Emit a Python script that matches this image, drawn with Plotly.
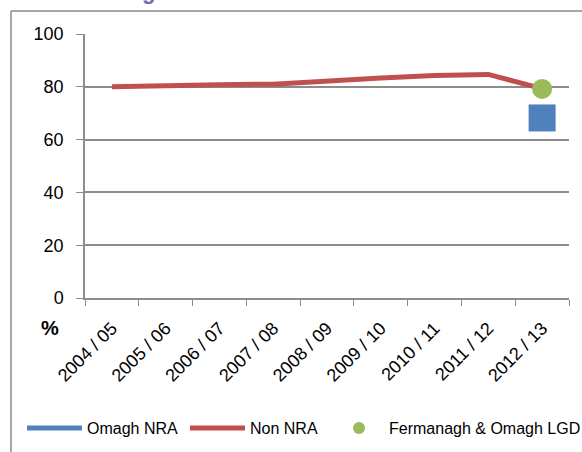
import plotly.graph_objects as go

years = ['2004 / 05', '2005 / 06', '2006 / 07', '2007 / 08', '2008 / 09',
         '2009 / 10', '2010 / 11', '2011 / 12', '2012 / 13']
non_nra = [80.0, 80.6, 80.8, 81.0, 82.3, 83.3, 84.3, 84.7, 79.3]
omagh_nra_years = ['2012 / 13']
omagh_nra = [68.2]
lgd_years = ['2012 / 13']
lgd = [79.2]
y_ticks = [0, 20, 40, 60, 80, 100]

W, H = 582, 452
L, R, T, B = 85, 13, 34, 154
pw, ph = W - L - R, H - T - B

def px_x(x):
    return (x - L) / pw

def px_y(y):
    return (H - B - y) / ph

blue = '#4F81BD'
red = '#C0504D'
green = '#9BBB59'
grid = '#8C8C8C'

fig = go.Figure()

# Omagh NRA: only one year, drawn as a square marker
fig.add_trace(go.Scatter(
    x=omagh_nra_years, y=omagh_nra, mode='markers', showlegend=False,
    marker=dict(symbol='square', size=27, color=blue),
))
fig.add_trace(go.Scatter(
    x=[None], y=[None], mode='lines', name='Omagh NRA', legend='legend',
    line=dict(color=blue, width=5),
))
fig.add_trace(go.Scatter(
    x=years, y=non_nra, mode='lines', name='Non NRA', legend='legend2',
    line=dict(color=red, width=5),
))
fig.add_trace(go.Scatter(
    x=lgd_years, y=lgd, mode='markers', name='Fermanagh & Omagh LGD', legend='legend3',
    marker=dict(symbol='circle', size=20, color=green),
))

def legend_at(x_px, itemwidth=30):
    return dict(
        x=px_x(x_px), y=px_y(428), xanchor='left', yanchor='middle',
        font=dict(size=16), bgcolor='rgba(0,0,0,0)', itemsizing='constant',
        borderwidth=0, tracegroupgap=0, itemwidth=itemwidth,
    )

fig.update_layout(
    width=W, height=H,
    margin=dict(l=L, r=R, t=T, b=B, pad=0, autoexpand=False),
    paper_bgcolor='white', plot_bgcolor='white',
    font=dict(family='Liberation Sans, Arial, sans-serif', size=18, color='black'),
    legend=legend_at(22, 55),
    legend2=legend_at(185, 55),
    legend3=legend_at(329, 50),
    xaxis=dict(
        type='category', categoryorder='array', categoryarray=years,
        range=[-0.5, len(years) - 0.5], automargin=False,
        showline=True, linecolor=grid, linewidth=1.5,
        ticks='outside', tickson='boundaries', ticklen=6, tickcolor=grid,
        tickangle=-45, showgrid=False, tickfont=dict(size=18), ticklabelstandoff=11,
    ),
    yaxis=dict(
        range=[0, 100], tickvals=y_ticks, automargin=False,
        showline=True, linecolor=grid, linewidth=1.5,
        ticks='outside', ticklen=7, tickcolor=grid, ticklabelstandoff=9,
        showgrid=True, gridcolor=grid, gridwidth=1.5, zeroline=False,
    ),
    shapes=[
        # outer chart frame
        dict(type='line', xref='paper', yref='paper', x0=px_x(11), x1=px_x(11),
             y0=px_y(11), y1=px_y(460), line=dict(color='#8A8A8A', width=1.5)),
        dict(type='line', xref='paper', yref='paper', x0=px_x(11), x1=px_x(600),
             y0=px_y(11), y1=px_y(11), line=dict(color='#8A8A8A', width=1.5)),
    ],
    annotations=[
        dict(text='<b>%</b>', xref='paper', yref='paper', x=px_x(50), y=px_y(328),
             xanchor='center', yanchor='middle', showarrow=False, font=dict(size=20)),
        dict(text='<b>Area Ratings</b>', xref='paper', yref='paper', x=px_x(30),
             y=px_y(6), xanchor='left', yanchor='bottom', showarrow=False,
             font=dict(size=22, color='#7F63A8')),
    ],
)

# drop the browser's default body margin so the figure sits at the page corner
fig.write_html('out.html', config={'displayModeBar': False},
               post_script="document.body.style.margin='0';document.body.style.overflow='hidden';")
